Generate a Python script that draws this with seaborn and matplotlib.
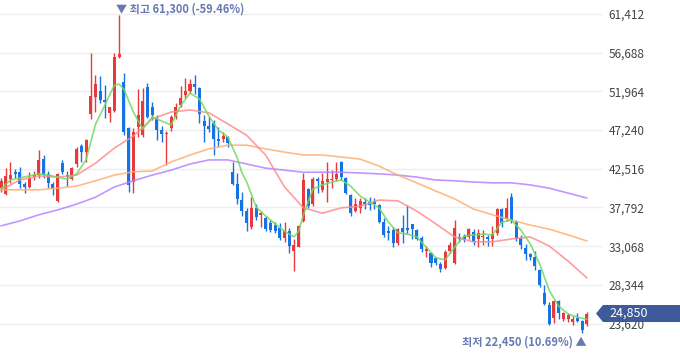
import numpy as np
import pandas as pd
import matplotlib
matplotlib.use("Agg")
import matplotlib.pyplot as plt
import matplotlib.transforms as mtransforms
from matplotlib.patches import Polygon
import seaborn as sns

# ── data (daily candles) ─────────────────────────────────────────────
opens = [40150, 39450, 41250, 42100, 42100, 40650, 40300, 41500, 41750, 43700,
         41900, 40650, 38600, 43200, 41750, 41250, 43100, 45300, 44550, 49200,
         51300, 52000, 50900, 49350, 49550, 56150, 53100, 47500, 40900, 47600,
         46650, 52500, 50050, 48600, 47250, 46750, 47500, 48850, 50300, 51500,
         52000, 52850, 52400, 48350, 47750, 48100, 46150, 46150, 46400, 42100,
         40650, 38700, 37350, 35400, 37750, 36900, 36500, 35900, 35650, 35300,
         34050, 34900, 32500, 32950, 36150, 40050, 38200, 41250, 39950, 40900,
         41150, 41250, 43350, 41400, 39300, 37350, 37750, 38450, 38450, 38600,
         38100, 36000, 34900, 35050, 33450, 35300, 35300, 35750, 35050, 34050,
         32500, 32250, 31650, 30900, 30400, 32500, 31000, 34200, 34300, 34200,
         34800, 33950, 34200, 34200, 33950, 34700, 37600, 36400, 39050, 36000,
         34050, 32850, 32100, 31750, 30150, 27350, 25900, 24300, 26350, 24200,
         24200, 23800, 24300, 23950, 23550]
highs = [41400, 42600, 43350, 42500, 42750, 40900, 42100, 42250, 44800, 44200,
         42250, 40900, 42000, 43600, 42250, 42750, 45200, 45550, 46150, 56650,
         53950, 53850, 52750, 50050, 56650, 61300, 54200, 47600, 47500, 52250,
         52400, 53000, 50650, 49100, 47750, 47150, 49100, 50550, 52600, 53600,
         53500, 53950, 52500, 49100, 48850, 48450, 47600, 47000, 46500, 43350,
         42000, 39700, 37750, 39050, 38200, 37350, 36750, 36250, 36000, 35900,
         36000, 35300, 33950, 35650, 42000, 40150, 41500, 41500, 42000, 43350,
         42350, 43350, 43450, 41500, 39450, 38950, 38950, 38950, 39050, 38950,
         38200, 36500, 35550, 35400, 35300, 36900, 38100, 35750, 35150, 34300,
         33100, 32350, 31750, 31150, 32600, 33600, 36250, 34650, 34550, 35300,
         35150, 35150, 35050, 34450, 35550, 37750, 37750, 38950, 39550, 36250,
         34450, 33350, 32250, 32500, 30300, 28350, 26250, 26500, 26500, 25050,
         24900, 24550, 24900, 24050, 25050]
lows = [39700, 39300, 40800, 41400, 40150, 39550, 40150, 41150, 41400, 41400,
        40150, 39300, 38450, 41900, 40400, 41150, 42750, 43350, 43350, 48600,
        49450, 50550, 48700, 48250, 49450, 56100, 46650, 39700, 39550, 46400,
        46400, 48700, 48450, 46050, 45800, 43000, 47150, 48600, 50050, 51150,
        51750, 51650, 48100, 45800, 47000, 44200, 45200, 45800, 45200, 40550,
        38200, 36750, 34900, 35150, 36250, 35400, 34900, 34800, 34700, 33800,
        33600, 32250, 30050, 32950, 36000, 37750, 37950, 39550, 39700, 38450,
        40150, 41000, 41150, 39450, 36750, 37250, 37100, 37600, 37500, 37600,
        35900, 34200, 33800, 32950, 33200, 33450, 34550, 33950, 33800, 32350,
        31750, 30500, 30750, 29900, 30300, 32250, 30900, 33600, 33600, 33950,
        33200, 32950, 33200, 33100, 33100, 34450, 35400, 36150, 35900, 33700,
        32700, 31400, 31400, 30150, 28100, 25900, 23450, 23700, 24200, 23950,
        23800, 23450, 23800, 22450, 23300]
closes = [41000, 41650, 41750, 41900, 40650, 40300, 41400, 41750, 43600, 41750,
          40800, 40050, 41900, 42100, 41500, 42600, 44950, 44550, 46050, 51400,
          52850, 50900, 50650, 50050, 56150, 56550, 47000, 40550, 47000, 49100,
          50800, 48850, 49100, 47250, 46750, 46900, 48850, 50050, 51150, 52000,
          52850, 52500, 49200, 47750, 47350, 46150, 45900, 46500, 45650, 40650,
          38850, 37350, 35900, 37750, 36650, 37100, 35150, 35050, 34900, 34050,
          34900, 33100, 33200, 35550, 41150, 37950, 41250, 41000, 41000, 41250,
          41250, 41900, 41500, 39550, 37100, 38200, 38600, 38200, 38100, 38200,
          36000, 34450, 34700, 33450, 35150, 34800, 35050, 35150, 33950, 32700,
          32700, 31000, 31000, 30300, 32350, 33200, 35300, 33950, 33800, 35150,
          33600, 34700, 34300, 33950, 34550, 37600, 35900, 37750, 36150, 33950,
          33200, 32100, 31750, 30650, 28350, 26000, 23550, 26350, 24900, 24900,
          24650, 24200, 23950, 22850, 24850]

# moving averages, sampled along the candles
ma5_idx = [0, 2, 4, 6, 8, 10, 12, 14, 16, 18, 20, 22, 24, 25, 26, 28, 30, 32, 34,
           36, 38, 40, 42, 44, 46, 48, 50, 51, 52, 54, 56, 58, 60, 62, 63, 64, 66,
           68, 70, 72, 74, 76, 78, 80, 82, 84, 86, 88, 90, 92, 94, 96, 98, 100,
           102, 104, 106, 108, 110, 112, 114, 116, 118, 120, 122, 124]
ma5 = [40050, 41150, 41400, 41650, 41900, 41750, 41500, 41250, 41900, 43600,
       47950, 50300, 52750, 52850, 52250, 49450, 47350, 48850, 48350, 47850,
       50200, 51750, 51050, 48950, 47250, 46400, 43850, 42000, 40900, 37850,
       36750, 35800, 34900, 34200, 34900, 36900, 40050, 40550, 40900, 41150,
       40400, 39200, 38450, 37750, 36000, 34700, 34550, 34200, 32950, 31650,
       31400, 32950, 34300, 34450, 34550, 34450, 36000, 36250, 35050, 33350,
       30900, 27700, 25750, 24800, 24400, 24150]
ma_long_idx = [0, 4, 8, 12, 16, 20, 24, 28, 32, 36, 40, 44, 48, 52, 56, 60,
               64, 68, 72, 76, 80, 84, 88, 92, 96, 100, 104, 108, 112, 116, 120, 124]
ma20 = [39950, 41150, 41650, 41500, 41750, 43200, 45050, 46500, 48600, 49450,
        49700, 49350, 48000, 46600, 44200, 40300, 37750, 37100, 37750, 37950,
        38700, 38600, 37350, 35800, 34200, 33600, 33600, 33950, 34200, 33100,
        31250, 29200]
ma60 = [39950, 39950, 39950, 40150, 40400, 41050, 41750, 42150, 42250, 43350,
        44200, 44950, 45400, 45400, 44950, 44550, 44200, 44200, 43950, 43700,
        42850, 41750, 40800, 39800, 38850, 37600, 36900, 36250, 35650, 35150,
        34450, 33700]
ma120 = [35550, 36150, 36900, 37500, 38200, 39050, 40300, 41050, 41750, 42350,
         43100, 43600, 43600, 43100, 42600, 42350, 42100, 42100, 42100, 42000,
         41900, 41750, 41500, 41150, 41050, 40900, 40800, 40800, 40550, 40150,
         39550, 38950]

y_ticks = [23620, 28344, 33068, 37792, 42516, 47240, 51964, 56688, 61412]

UP = "#e8393b"
DOWN = "#1673e6"
LABEL = "#6679b0"

sns.set_style("white")
plt.rcParams["font.family"] = ["Noto Sans CJK KR", "DejaVu Sans"]

candles = pd.DataFrame({"open": opens, "high": highs, "low": lows, "close": closes})
candles["idx"] = np.arange(len(candles))
candles["up"] = candles["close"] >= candles["open"]
candles["color"] = np.where(candles["up"], UP, DOWN)

fig = plt.figure(figsize=(6.8, 3.58), dpi=100)
ax = fig.add_axes([0, 0, 603 / 680, 1])
ymin, ymax = 19420, 63121
ax.set_xlim(-0.21, 127.4)
ax.set_ylim(ymin, ymax)
ppx = (ymax - ymin) / 358  # price per pixel

# candles
ax.vlines(candles["idx"], candles["low"], candles["high"],
          colors=candles["color"], linewidth=1.0, zorder=2)
body_lo = candles[["open", "close"]].min(axis=1)
body_h = (candles["close"] - candles["open"]).abs().clip(lower=ppx)
ax.bar(candles["idx"], body_h, bottom=body_lo, width=0.64,
       color=candles["color"], linewidth=0, zorder=3)

# moving averages
ma = pd.concat([
    pd.DataFrame({"idx": ma_long_idx, "value": ma120, "line": "MA120"}),
    pd.DataFrame({"idx": ma_long_idx, "value": ma60, "line": "MA60"}),
    pd.DataFrame({"idx": ma_long_idx, "value": ma20, "line": "MA20"}),
    pd.DataFrame({"idx": ma5_idx, "value": ma5, "line": "MA5"}),
])
palette = {"MA5": "#74d85e", "MA20": "#ff8c8c", "MA60": "#ffb072", "MA120": "#b883ff"}
sns.lineplot(data=ma, x="idx", y="value", hue="line", palette=palette,
             linewidth=1.2, alpha=0.85, legend=False, ax=ax, zorder=4)

# axes styling
ax.set_yticks(y_ticks)
ax.set_yticklabels([f"{v:,}" for v in y_ticks])
ax.yaxis.tick_right()
ax.tick_params(axis="y", length=0, pad=4, labelsize=8.5, labelcolor="#444444")
ax.set_xticks([])
ax.grid(axis="y", color="#eeeeee", linewidth=1)
ax.grid(axis="x", visible=False)
ax.set_axisbelow(True)
ax.set_xlabel("")
ax.set_ylabel("")
for s in ax.spines.values():
    s.set_visible(False)

# high / low markers
hi_i = int(np.argmax(highs))
lo_i = int(np.argmin(lows))
last = closes[-1]
ax.annotate(f"▼ 최고 {highs[hi_i]:,} ({(last / highs[hi_i] - 1) * 100:.2f}%)",
            xy=(hi_i, highs[hi_i]), xytext=(-3.5, 6), textcoords="offset pixels",
            ha="left", va="center", fontsize=8, color=LABEL, fontweight="bold",
            annotation_clip=False)
ax.annotate(f"최저 {lows[lo_i]:,} ({(last / lows[lo_i] - 1) * 100:.2f}%) ▲",
            xy=(lo_i, lows[lo_i]), xytext=(4, -9), textcoords="offset pixels",
            ha="right", va="center", fontsize=8, color=LABEL, fontweight="bold",
            annotation_clip=False)

# current price tag on the right
trans = mtransforms.blended_transform_factory(fig.transFigure, ax.transData)
hh = 8.5 * ppx
tag = Polygon([(596 / 680, last), (603 / 680, last + hh), (1.0, last + hh),
               (1.0, last - hh), (603 / 680, last - hh)],
              closed=True, transform=trans, facecolor="#3e5a9a",
              edgecolor="none", clip_on=False, zorder=10)
fig.add_artist(tag)
fig.text(609 / 680, last, f"{last:,}", transform=trans, color="white",
         fontsize=9, ha="left", va="center", zorder=11)

fig.savefig("out.png", dpi=100)
